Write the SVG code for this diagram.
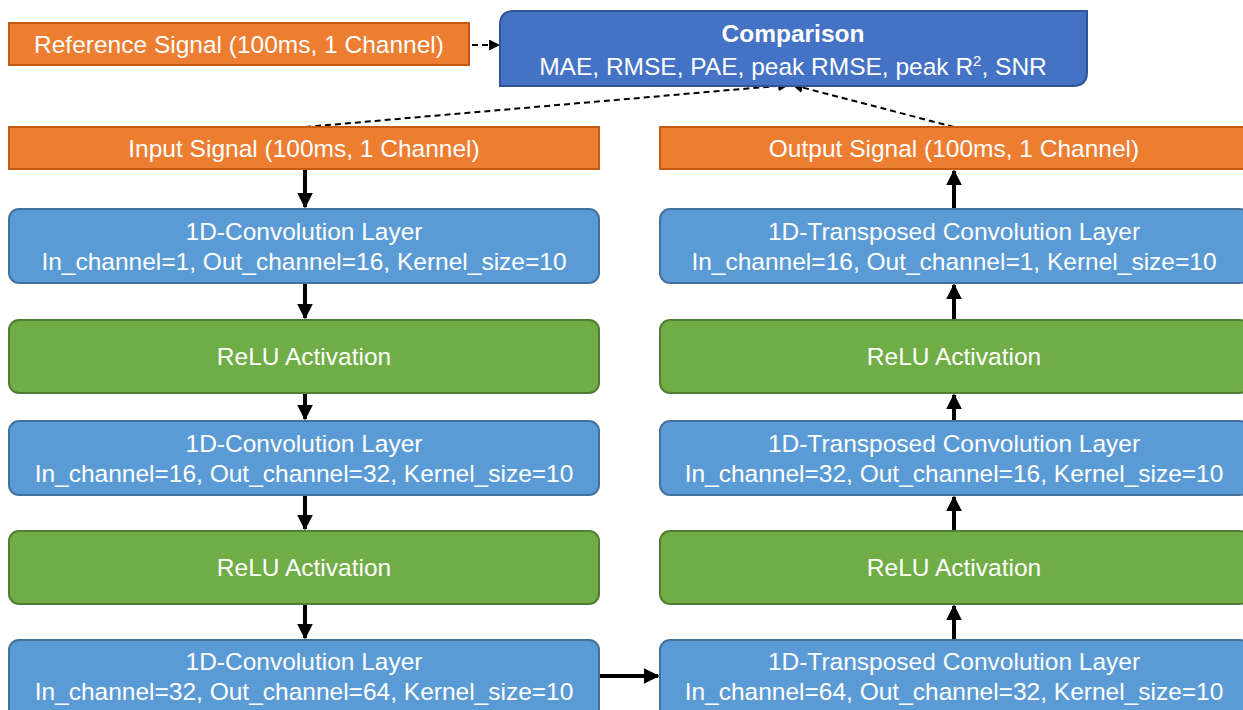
<svg xmlns="http://www.w3.org/2000/svg" width="1243" height="710" viewBox="0 0 1243 710">
<defs>
<style>
.t{font-family:"Liberation Sans",Arial,sans-serif;font-size:24.5px;fill:#fff;text-anchor:middle}
.b{font-weight:bold}
.sig{fill:#ED7D31;stroke:#C55A11;stroke-width:2}
.conv{fill:#5B9BD5;stroke:#41719C;stroke-width:2}
.relu{fill:#70AD47;stroke:#507E32;stroke-width:2}
.cmp{fill:#4472C4;stroke:#2F5597;stroke-width:2}
.a{stroke:#000;stroke-width:4;fill:none;marker-end:url(#ah)}
.d{stroke:#000;stroke-width:2;stroke-dasharray:6,4;fill:none;marker-end:url(#dh)}
</style>
<marker id="ah" viewBox="0 0 10 10" refX="9" refY="5" markerWidth="4" markerHeight="4" orient="auto" markerUnits="strokeWidth"><path d="M0,0 L10,5 L0,10 z" fill="#000"/></marker>
<marker id="dh" viewBox="0 0 10 10" refX="9" refY="5" markerWidth="5.5" markerHeight="5.5" orient="auto" markerUnits="strokeWidth"><path d="M0,0 L10,5 L0,10 z" fill="#000"/></marker>
</defs>
<rect width="1243" height="710" fill="#fff"/>
<g id="connectors">
<line class="d" x1="472" y1="45" x2="499" y2="45"/>
<line class="d" x1="305" y1="127" x2="788" y2="85"/>
<line class="d" x1="954" y1="127" x2="793" y2="85"/>
<line class="a" x1="305" y1="170" x2="305" y2="207"/>
<line class="a" x1="305" y1="284" x2="305" y2="318"/>
<line class="a" x1="305" y1="394" x2="305" y2="419"/>
<line class="a" x1="305" y1="496" x2="305" y2="529"/>
<line class="a" x1="305" y1="605" x2="305" y2="638"/>
<line class="a" x1="600" y1="676" x2="658" y2="676"/>
<line class="a" x1="954" y1="639" x2="954" y2="606"/>
<line class="a" x1="954" y1="530" x2="954" y2="497"/>
<line class="a" x1="954" y1="420" x2="954" y2="395"/>
<line class="a" x1="954" y1="319" x2="954" y2="285"/>
<line class="a" x1="954" y1="208" x2="954" y2="171"/>
</g>
<g id="ref"><rect class="sig" x="9" y="23" width="460" height="42"/><text class="t" x="239" y="53">Reference Signal (100ms, 1 Channel)</text></g>
<g id="comparison"><path class="cmp" d="M514,11 H1087 V72 Q1087,86 1073,86 H500 V25 Q500,11 514,11 Z"/><text class="t b" x="793" y="42">Comparison</text><text class="t" x="793" y="75">MAE, RMSE, PAE, peak RMSE, peak R<tspan font-size="15" dy="-9">2</tspan><tspan dy="9">, SNR</tspan></text></g>
<g id="input"><rect class="sig" x="9" y="127" width="590" height="42"/><text class="t" x="304" y="157">Input Signal (100ms, 1 Channel)</text></g>
<g id="output"><rect class="sig" x="660" y="127" width="590" height="42"/><text class="t" x="954" y="157">Output Signal (100ms, 1 Channel)</text></g>
<g id="conv1"><rect class="conv" x="9" y="209" width="590" height="74" rx="10"/><text class="t" x="304" y="240">1D-Convolution Layer</text><text class="t" x="304" y="270">In_channel=1, Out_channel=16, Kernel_size=10</text></g>
<g id="relu1"><rect class="relu" x="9" y="320" width="590" height="73" rx="10"/><text class="t" x="304" y="365">ReLU Activation</text></g>
<g id="conv2"><rect class="conv" x="9" y="421" width="590" height="74" rx="10"/><text class="t" x="304" y="452">1D-Convolution Layer</text><text class="t" x="304" y="482">In_channel=16, Out_channel=32, Kernel_size=10</text></g>
<g id="relu2"><rect class="relu" x="9" y="531" width="590" height="73" rx="10"/><text class="t" x="304" y="576">ReLU Activation</text></g>
<g id="conv3"><rect class="conv" x="9" y="640" width="590" height="80" rx="10"/><text class="t" x="304" y="670">1D-Convolution Layer</text><text class="t" x="304" y="700">In_channel=32, Out_channel=64, Kernel_size=10</text></g>
<g id="tconv1"><rect class="conv" x="660" y="209" width="590" height="74" rx="10"/><text class="t" x="954" y="240">1D-Transposed Convolution Layer</text><text class="t" x="954" y="270">In_channel=16, Out_channel=1, Kernel_size=10</text></g>
<g id="relu3"><rect class="relu" x="660" y="320" width="590" height="73" rx="10"/><text class="t" x="954" y="365">ReLU Activation</text></g>
<g id="tconv2"><rect class="conv" x="660" y="421" width="590" height="74" rx="10"/><text class="t" x="954" y="452">1D-Transposed Convolution Layer</text><text class="t" x="954" y="482">In_channel=32, Out_channel=16, Kernel_size=10</text></g>
<g id="relu4"><rect class="relu" x="660" y="531" width="590" height="73" rx="10"/><text class="t" x="954" y="576">ReLU Activation</text></g>
<g id="tconv3"><rect class="conv" x="660" y="640" width="590" height="80" rx="10"/><text class="t" x="954" y="670">1D-Transposed Convolution Layer</text><text class="t" x="954" y="700">In_channel=64, Out_channel=32, Kernel_size=10</text></g>
</svg>
